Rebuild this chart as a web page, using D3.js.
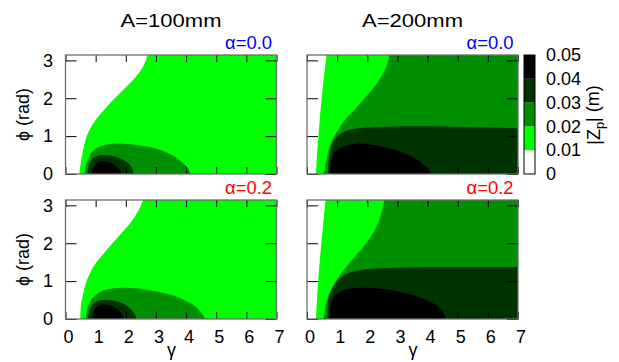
<!DOCTYPE html>
<html>
<head>
<meta charset="utf-8">
<script src="https://cdn.jsdelivr.net/npm/d3@7"></script>
<style>
  body { margin: 0; background: #fff; }
  text { font-family: "Liberation Sans", Arial, sans-serif; fill: #000; }
</style>
</head>
<body>
<svg id="chart" width="619" height="362"></svg>
<script>
// axis ticks
const gammaTicks = [0, 1, 2, 3, 4, 5, 6, 7];
const phiTicks = [0, 1, 2, 3];
const zTicks = [0, 0.01, 0.02, 0.03, 0.04, 0.05];
const bandColors = ['#ffffff', '#00ff00', '#008f00', '#003300', '#000000'];

const amplitudeTitles = ['A=100mm', 'A=200mm'];
const alphaLabels = ['α=0.0', 'α=0.2'];
const alphaColors = ['#0000ff', '#ff0000'];

// contour boundaries, [gamma, phi] pairs
// levels 0.01, 0.02, 0.03, 0.04 for each panel
const a100alpha0 = [
  [[0.46, 0], [0.51, 0.32], [0.57, 0.58], [0.68, 0.94], [0.82, 1.20], [1.04, 1.47], [1.32, 1.73],
   [1.63, 2.00], [1.96, 2.26], [2.29, 2.53], [2.54, 2.79], [2.67, 3.01], [2.73, Math.PI]],
  [[0.64, 0], [0.66, 0.19], [0.75, 0.41], [0.90, 0.60], [1.16, 0.73], [1.54, 0.80], [2.10, 0.79],
   [2.65, 0.73], [3.20, 0.62], [3.64, 0.45], [3.92, 0.27], [4.09, 0.12], [4.14, 0]],
  [[0.73, 0], [0.78, 0.23], [0.90, 0.41], [1.10, 0.49], [1.32, 0.50], [1.60, 0.47], [1.87, 0.39],
   [2.10, 0.27], [2.22, 0.12], [2.26, 0]],
  [[0.87, 0], [0.92, 0.17], [1.02, 0.28], [1.20, 0.34], [1.40, 0.33], [1.60, 0.26], [1.75, 0.15],
   [1.83, 0.05], [1.85, 0]]
];

const a100alpha2 = [
  [[0.49, 0], [0.51, 0.35], [0.57, 0.61], [0.68, 0.96], [0.82, 1.23], [1.02, 1.49], [1.29, 1.75],
   [1.58, 2.02], [1.87, 2.28], [2.16, 2.54], [2.38, 2.81], [2.52, 3.03], [2.57, Math.PI]],
  [[0.68, 0], [0.71, 0.22], [0.82, 0.46], [0.99, 0.63], [1.27, 0.76], [1.71, 0.82], [2.32, 0.81],
   [2.98, 0.73], [3.64, 0.60], [4.14, 0.42], [4.42, 0.25], [4.57, 0.09], [4.62, 0]],
  [[0.74, 0], [0.80, 0.24], [0.92, 0.41], [1.12, 0.49], [1.35, 0.51], [1.62, 0.48], [1.92, 0.40],
   [2.15, 0.27], [2.30, 0.12], [2.35, 0]],
  [[0.87, 0], [0.92, 0.19], [1.03, 0.31], [1.22, 0.38], [1.45, 0.37], [1.65, 0.30], [1.82, 0.18],
   [1.90, 0.07], [1.92, 0]]
];

const a200alpha0 = [
  [[0.30, 0], [0.33, 0.5], [0.38, 1.0], [0.44, 1.6], [0.51, 2.2], [0.58, 2.7], [0.65, Math.PI]],
  [[0.55, 0], [0.66, 0.41], [0.73, 0.67], [0.86, 0.94], [1.06, 1.20], [1.30, 1.47], [1.61, 1.73],
   [1.91, 2.00], [2.19, 2.26], [2.43, 2.53], [2.61, 2.79], [2.70, 3.01], [2.74, Math.PI]],
  [[0.70, 0], [0.71, 0.27], [0.76, 0.58], [0.88, 0.87], [1.11, 1.06], [1.42, 1.17], [1.86, 1.22],
   [2.63, 1.25], [3.74, 1.26], [4.84, 1.25], [5.95, 1.23], [7, 1.21]],
  [[0.76, 0], [0.80, 0.32], [0.93, 0.58], [1.19, 0.72], [1.64, 0.80], [2.10, 0.78], [2.41, 0.74],
   [3.07, 0.60], [3.63, 0.39], [3.96, 0.19], [4.12, 0]]
];

const a200alpha2 = [
  [[0.30, 0], [0.33, 0.5], [0.37, 1.0], [0.43, 1.6], [0.50, 2.2], [0.56, 2.7], [0.62, Math.PI]],
  [[0.55, 0], [0.64, 0.44], [0.81, 0.79], [1.08, 1.14], [1.42, 1.49], [1.80, 1.84], [2.13, 2.19],
   [2.36, 2.54], [2.50, 2.89], [2.57, Math.PI]],
  [[0.68, 0], [0.69, 0.44], [0.77, 0.70], [0.95, 0.96], [1.19, 1.14], [1.53, 1.25], [2.08, 1.32],
   [2.96, 1.35], [4.30, 1.37], [5.60, 1.37], [7, 1.37]],
  [[0.76, 0], [0.78, 0.35], [0.92, 0.61], [1.19, 0.75], [1.69, 0.82], [2.30, 0.81], [3.07, 0.72],
   [3.74, 0.57], [4.24, 0.39], [4.51, 0.19], [4.60, 0]]
];

const panels = [
  {col: 0, row: 0, bounds: a100alpha0},
  {col: 1, row: 0, bounds: a200alpha0},
  {col: 0, row: 1, bounds: a100alpha2},
  {col: 1, row: 1, bounds: a200alpha2}
];

const colX = [65.5, 307];
const rowY = [55, 200];
const pw = 211, ph = 119;
const fs = '18px';

const svg = d3.select('#chart');

const boundaryLine = (x, y) => d3.line()
  .x(d => x(d[0]))
  .y(d => y(d[1]))
  .curve(d3.curveCatmullRom.alpha(0.5));

panels.forEach((p, i) => {
  const x0 = colX[p.col], y0 = rowY[p.row];
  const x = d3.scaleLinear().domain([0, 7]).range([x0, x0 + pw]);
  const y = d3.scaleLinear().domain([0, Math.PI]).range([y0 + ph, y0]);
  const [gMin, gMax] = x.domain();
  const [pMin, pMax] = y.domain();

  const g = svg.append('g');
  g.append('clipPath').attr('id', 'clip' + i)
    .append('rect')
    .attr('x', x0).attr('y', y0).attr('width', pw).attr('height', ph);

  const fills = g.append('g').attr('clip-path', `url(#clip${i})`);
  fills.append('rect')
    .attr('x', x0).attr('y', y0).attr('width', pw).attr('height', ph)
    .attr('fill', bandColors[0]);

  p.bounds.forEach((pts, k) => {
    let d = boundaryLine(x, y)(pts);
    const last = pts[pts.length - 1];
    if (last[1] >= pMax - 1e-6) {
      d += `L${x(gMax)},${y(pMax)}L${x(gMax)},${y(pMin)}`;
    } else if (last[0] >= gMax) {
      d += `L${x(gMax)},${y(pMin)}`;
    }
    fills.append('path')
      .attr('d', d + 'Z')
      .attr('fill', bandColors[k + 1]);
  });

  // ticks on all four sides, pointing inward
  const bottom = g.append('g')
    .attr('transform', `translate(0,${y0 + ph})`)
    .call(d3.axisBottom(x).tickValues(gammaTicks).tickSizeInner(-7).tickSizeOuter(0)
      .tickPadding(11.5).tickFormat(p.row === 1 ? d3.format('d') : ''));
  const top = g.append('g')
    .attr('transform', `translate(0,${y0})`)
    .call(d3.axisTop(x).tickValues(gammaTicks).tickSizeInner(-7).tickSizeOuter(0).tickFormat(''));
  const left = g.append('g')
    .attr('transform', `translate(${x0},0)`)
    .call(d3.axisLeft(y).tickValues(phiTicks).tickSizeInner(-11).tickSizeOuter(0)
      .tickPadding(12.5).tickFormat(p.col === 0 ? d3.format('d') : ''));
  const right = g.append('g')
    .attr('transform', `translate(${x0 + pw},0)`)
    .call(d3.axisRight(y).tickValues(phiTicks).tickSizeInner(-11).tickSizeOuter(0).tickFormat(''));

  [bottom, top, left, right].forEach(a => {
    a.select('.domain').remove();
    a.selectAll('line').attr('stroke', '#000').attr('stroke-width', 1);
    a.selectAll('text').style('font-size', fs).attr('fill', '#000');
  });
  bottom.selectAll('text').attr('dx', 2.5);

  g.append('rect')
    .attr('x', x0).attr('y', y0).attr('width', pw).attr('height', ph)
    .attr('fill', 'none').attr('stroke', '#6e6e6e').attr('stroke-width', 1.3);

  g.append('text')
    .attr('x', x0 + pw - 4.5).attr('y', y0 - 5.8)
    .attr('text-anchor', 'end')
    .style('font-size', fs)
    .style('fill', alphaColors[p.row])
    .attr('textLength', 47).attr('lengthAdjust', 'spacingAndGlyphs')
    .text(alphaLabels[p.row]);

  if (p.row === 0) {
    svg.append('text')
      .attr('x', x0 + pw / 2).attr('y', 27.3)
      .attr('text-anchor', 'middle')
      .style('font-size', '18.5px')
      .attr('textLength', 101).attr('lengthAdjust', 'spacingAndGlyphs')
      .text(amplitudeTitles[p.col]);
  }
  if (p.row === 1) {
    svg.append('text')
      .attr('x', x0 + pw / 2 + 0.5).attr('y', 356)
      .attr('text-anchor', 'middle')
      .style('font-size', fs)
      .text('γ');
  }
  if (p.col === 0) {
    svg.append('text')
      .attr('transform', `translate(29,${y0 + ph / 2}) rotate(-90)`)
      .attr('text-anchor', 'middle')
      .style('font-size', fs)
      .text('ϕ (rad)');
  }
});

// colour bar
const cbX = 524, cbW = 11;
const z = d3.scaleLinear().domain([0, 0.05]).range([174, 55]);
const cb = svg.append('g');
cb.selectAll('rect.band')
  .data(d3.range(zTicks.length - 1))
  .join('rect')
  .attr('class', 'band')
  .attr('x', cbX).attr('width', cbW)
  .attr('y', i => z(zTicks[i + 1]))
  .attr('height', i => z(zTicks[i]) - z(zTicks[i + 1]))
  .attr('fill', i => bandColors[i]);
cb.append('rect')
  .attr('x', cbX).attr('y', z(0.05)).attr('width', cbW).attr('height', z(0) - z(0.05))
  .attr('fill', 'none').attr('stroke', '#000').attr('stroke-width', 1);

const cbAxis = cb.append('g')
  .attr('transform', `translate(${cbX + cbW},0)`)
  .call(d3.axisRight(z).tickValues(zTicks).tickSize(0).tickPadding(11)
    .tickFormat(d => d === 0 ? '0' : d3.format('.2f')(d)));
cbAxis.select('.domain').remove();
cbAxis.selectAll('text').style('font-size', fs).attr('fill', '#000');

const cbLabel = svg.append('text')
  .attr('transform', 'translate(600,115) rotate(-90)')
  .attr('text-anchor', 'middle')
  .style('font-size', fs);
cbLabel.append('tspan').text('|Z');
cbLabel.append('tspan').attr('dy', '0.3em').style('font-size', '13px').text('p');
cbLabel.append('tspan').attr('dy', '-0.3em').text('| (m)');
</script>
</body>
</html>
